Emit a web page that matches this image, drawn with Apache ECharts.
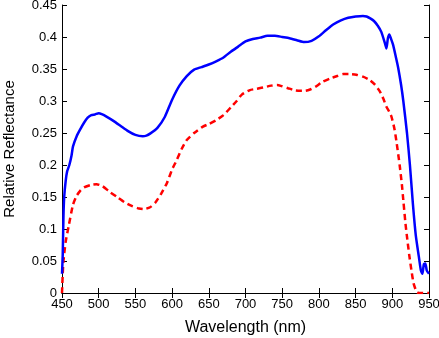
<!DOCTYPE html>
<html>
<head>
<meta charset="utf-8">
<script src="https://cdn.jsdelivr.net/npm/echarts@6/dist/echarts.min.js"></script>
<style>
  html, body { margin: 0; padding: 0; background: #fff; }
  #chart { width: 439px; height: 338px; }
</style>
</head>
<body>
<div id="chart"></div>
<script>
// Reflectance spectra: upper (solid blue) and lower (dashed red) samples
const waveUpper = [450, 451, 452, 453, 455, 457, 460, 463, 465, 470, 475, 480, 485, 490, 495, 500, 505, 510, 520, 530, 540, 550, 560, 565, 570, 580, 590, 600, 610, 620, 630, 640, 650, 660, 670, 680, 690, 700, 710, 720, 730, 740, 750, 760, 770, 780, 790, 800, 810, 820, 830, 840, 850, 860, 865, 870, 875, 880, 885, 890, 892, 894, 896, 898, 901, 905, 908, 912, 915, 920, 924, 928, 932, 936, 939, 941, 943, 945, 947, 950];
const reflUpper = [0.03, 0.06, 0.12, 0.15, 0.175, 0.19, 0.2, 0.215, 0.229, 0.245, 0.256, 0.266, 0.274, 0.278, 0.279, 0.281, 0.279, 0.276, 0.269, 0.261, 0.253, 0.247, 0.245, 0.246, 0.249, 0.258, 0.275, 0.302, 0.324, 0.339, 0.349, 0.353, 0.357, 0.362, 0.368, 0.377, 0.385, 0.393, 0.397, 0.399, 0.402, 0.402, 0.4, 0.398, 0.395, 0.392, 0.394, 0.401, 0.411, 0.42, 0.426, 0.43, 0.432, 0.433, 0.432, 0.429, 0.425, 0.418, 0.408, 0.39, 0.382, 0.398, 0.404, 0.398, 0.388, 0.368, 0.352, 0.325, 0.3, 0.25, 0.2, 0.14, 0.09, 0.058, 0.035, 0.03, 0.045, 0.046, 0.035, 0.03];

const waveLower = [450, 451, 452, 455, 459, 465, 470, 475, 480, 490, 497, 505, 515, 525, 535, 545, 555, 561, 570, 577, 585, 593, 600, 606, 613, 620, 630, 642, 650, 660, 670, 680, 688, 695, 706, 715, 724, 735, 743, 750, 758, 766, 774, 781, 788, 795, 805, 815, 825, 833, 842, 851, 860, 869, 876, 883, 888, 892, 896, 899, 903, 906, 910, 913, 915, 918, 920, 923, 926, 929, 933, 936, 950];
const reflLower = [0, 0.03, 0.05, 0.08, 0.104, 0.138, 0.152, 0.16, 0.165, 0.169, 0.17, 0.167, 0.158, 0.15, 0.142, 0.136, 0.132, 0.131, 0.134, 0.141, 0.155, 0.172, 0.193, 0.207, 0.225, 0.239, 0.25, 0.26, 0.264, 0.27, 0.278, 0.29, 0.3, 0.31, 0.317, 0.319, 0.321, 0.324, 0.325, 0.323, 0.32, 0.317, 0.316, 0.316, 0.318, 0.322, 0.33, 0.335, 0.339, 0.342, 0.342, 0.341, 0.338, 0.333, 0.326, 0.315, 0.303, 0.291, 0.283, 0.275, 0.256, 0.234, 0.2, 0.17, 0.145, 0.108, 0.088, 0.06, 0.036, 0.015, 0.002, 0, 0];

const xTicks = { min: 450, max: 950, interval: 50 };
const yTicks = { min: 0, max: 0.45, interval: 0.05 };

const pairs = (xs, ys) => xs.map((x, i) => [x, ys[i]]);
const font = 'Liberation Sans, Arial, sans-serif';

const tickStyle = { show: true, inside: true, length: 5, lineStyle: { color: '#000', width: 1 } };
const lineAxis = { show: true, lineStyle: { color: '#000', width: 1 } };

const chart = echarts.init(document.getElementById('chart'), null, { renderer: 'canvas' });
chart.setOption({
  animation: false,
  backgroundColor: '#fff',
  grid: { left: 62, top: 5, right: 10, bottom: 45, containLabel: false, outerBoundsMode: 'none' },
  xAxis: [
    {
      type: 'value', min: xTicks.min, max: xTicks.max, interval: xTicks.interval,
      name: 'Wavelength (nm)', nameLocation: 'middle', nameGap: 27,
      nameTextStyle: { fontFamily: font, fontSize: 16, color: '#000' },
      axisLine: lineAxis, axisTick: tickStyle, splitLine: { show: false },
      axisLabel: { fontFamily: font, fontSize: 13, color: '#000', margin: 5 }
    },
    {
      type: 'value', position: 'top', min: xTicks.min, max: xTicks.max, interval: xTicks.interval,
      axisLine: lineAxis, axisTick: tickStyle, splitLine: { show: false }, axisLabel: { show: false }
    }
  ],
  yAxis: [
    {
      type: 'value', min: yTicks.min, max: yTicks.max, interval: yTicks.interval,
      name: 'Relative Reflectance', nameLocation: 'middle', nameGap: 45,
      nameTextStyle: { fontFamily: font, fontSize: 15, color: '#000' },
      axisLine: lineAxis, axisTick: tickStyle, splitLine: { show: false },
      axisLabel: { fontFamily: font, fontSize: 13, color: '#000', margin: 5 }
    },
    {
      type: 'value', position: 'right', min: yTicks.min, max: yTicks.max, interval: yTicks.interval,
      axisLine: lineAxis, axisTick: tickStyle, splitLine: { show: false }, axisLabel: { show: false }
    }
  ],
  series: [
    {
      type: 'line', data: pairs(waveUpper, reflUpper), showSymbol: false, smooth: 0.2,
      lineStyle: { color: '#0000ff', width: 2.5 }, z: 3
    },
    {
      type: 'line', data: pairs(waveLower, reflLower), showSymbol: false, smooth: 0.2,
      lineStyle: { color: '#ff0000', width: 2.5, type: [6, 4] }, z: 2
    }
  ]
});
</script>
</body>
</html>
